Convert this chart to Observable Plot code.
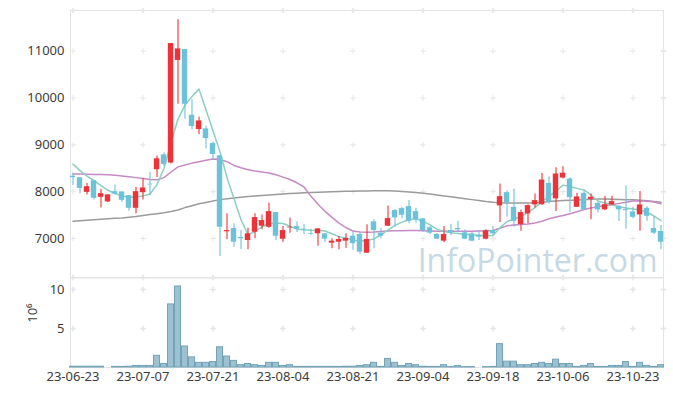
<!DOCTYPE html>
<html>
<head>
<meta charset="utf-8">
<script src="https://cdn.jsdelivr.net/npm/d3@7"></script>
<script src="https://cdn.jsdelivr.net/npm/@observablehq/plot@0.6"></script>
<style>
  html, body { margin: 0; padding: 0; background: #fff; }
  #wrap { position: relative; width: 673px; height: 396px; overflow: hidden; font-family: "Noto Sans", sans-serif; }
  #topPanel, #bottomPanel { position: absolute; left: 0; }
  #topPanel { top: 0; }
  #bottomPanel { top: 277px; }
</style>
</head>
<body>
<div id="wrap"><div id="topPanel"></div><div id="bottomPanel"></div></div>
<script>
// Trading days (yy-mm-dd)
const dates = ["23-06-23","23-06-26","23-06-27","23-06-28","23-06-29","23-06-30","23-07-03","23-07-04","23-07-05","23-07-06","23-07-07",
"23-07-10","23-07-11","23-07-12","23-07-13","23-07-14","23-07-17","23-07-18","23-07-19","23-07-20","23-07-21",
"23-07-24","23-07-25","23-07-26","23-07-27","23-07-28","23-07-31","23-08-01","23-08-02","23-08-03","23-08-04",
"23-08-07","23-08-08","23-08-09","23-08-10","23-08-11","23-08-14","23-08-16","23-08-17","23-08-18","23-08-21",
"23-08-22","23-08-23","23-08-24","23-08-25","23-08-28","23-08-29","23-08-30","23-08-31","23-09-01","23-09-04",
"23-09-05","23-09-06","23-09-07","23-09-08","23-09-11","23-09-12","23-09-13","23-09-14","23-09-15","23-09-18",
"23-09-19","23-09-20","23-09-21","23-09-22","23-09-25","23-09-26","23-09-27","23-10-04","23-10-05","23-10-06",
"23-10-10","23-10-11","23-10-12","23-10-13","23-10-16","23-10-17","23-10-18","23-10-19","23-10-20","23-10-23",
"23-10-24","23-10-25","23-10-26","23-10-27"];

const open = [8330,8298,7985,8234,7879,7781,8000,7994,7915,7645,7979,8160,8468,8787,8611,10802,11036,9632,9326,9340,9028,
8766,7143,7213,7021,6957,7134,7262,7240,7553,6985,7226,7255,7198,7100,7100,7100,6900,6921,6943,7050,
7085,6687,7355,7113,7262,7596,7638,7681,7574,7419,7228,7085,6943,7170,7213,7121,7100,7064,6985,7170,
7696,7979,7666,7298,7526,7717,7723,8177,7845,8291,8270,7666,7964,7836,7751,7611,7717,7681,7617,7568,
7504,7645,7213,7149];
const high = [8400,8300,8177,8240,8049,7940,8143,8000,7920,8091,8283,8411,8760,8830,11164,11674,11040,9964,9596,9398,9058,
8770,7526,7313,7170,7219,7526,7504,7760,7555,7255,7440,7355,7298,7198,7206,7105,6994,7043,7100,7134,
7134,7291,7398,7213,7696,7617,7660,7809,7645,7426,7255,7106,7255,7298,7368,7185,7128,7156,7185,7255,
8164,8021,8058,7611,7723,7951,8389,8319,8511,8532,8298,7964,8006,7951,7772,7900,7900,7702,8121,7666,
8006,7681,7468,7277];
const low = [8130,7957,7930,7823,7653,7770,7930,7772,7581,7526,7823,7915,8304,8540,8589,9866,9547,9319,9213,8909,8674,
6617,6972,6815,6760,6760,6994,7185,7219,6957,6921,7113,7128,7085,7070,6836,6915,6781,6760,6794,6750,
6660,6680,6781,6994,7255,7240,7419,7313,7326,7134,7085,6972,6908,7057,7134,6972,6929,6957,6972,7057,
7340,7453,7240,7155,7313,7653,7702,7738,7574,8270,7560,7660,7596,7398,7547,7596,7702,7362,7198,7419,
7155,7368,7085,6760];
const close = [8300,8070,8106,7858,7957,7930,7951,7815,7645,8000,8079,8145,8702,8581,11164,11049,9866,9390,9511,9134,8794,
7240,7170,6921,6994,7100,7447,7383,7574,7049,7170,7240,7198,7185,7085,7206,6985,6943,6979,7000,6890,
6709,6979,7170,7049,7426,7440,7496,7368,7398,7170,7113,6985,7085,7113,7185,6985,6943,7028,7164,7100,
7894,7760,7368,7553,7702,7809,8249,7772,8377,8394,7872,7887,7611,7879,7611,7723,7787,7611,7596,7453,
7717,7474,7113,6921];
// Volume in millions of shares
const volume = [0.1,0.1,0.1,0.1,0.1,0,0.08,0.08,0.1,0.2,0.2,0.2,1.5,0.45,8.1,10.4,2.7,1.3,0.6,0.6,0.7,
2.6,1.4,0.85,0.3,0.45,0.3,0.2,0.6,0.6,0.2,0.3,0.08,0.08,0.08,0.08,0.08,0.08,0.08,0.1,0.1,
0.2,0.3,0.6,0.08,1.1,0.6,0.2,0.45,0.3,0.1,0.08,0.08,0.3,0.05,0.2,0.05,0.05,0,0.05,0.08,
3.0,0.75,0.75,0.3,0.3,0.45,0.6,0.45,1.0,0.45,0.45,0.08,0.2,0.45,0.08,0.08,0.2,0.2,0.7,0.08,
0.6,0.2,0.08,0.3];
const ma5 = [8589,8450,8330,8234,8130,8030,7960,7910,7875,7890,7910,7951,8150,8500,9050,9550,9850,10030,10190,9750,9300,
8850,8300,7850,7400,7080,7150,7250,7320,7330,7320,7260,7200,7185,7175,7170,7160,7100,7040,7010,6970,
6940,6960,6990,7080,7180,7280,7350,7400,7420,7370,7290,7200,7150,7120,7105,7090,7080,7070,7060,7064,
7230,7360,7420,7460,7560,7660,7790,7900,8010,8140,8110,8070,8036,7930,7800,7760,7720,7680,7650,7630,
7610,7560,7480,7383];
const ma20 = [8377,8375,8372,8368,8365,8362,8350,8335,8320,8300,8280,8260,8255,8300,8420,8530,8570,8610,8640,8670,8696,
8690,8640,8560,8510,8470,8440,8420,8400,8360,8310,8260,8190,8100,7900,7730,7580,7450,7330,7230,7160,
7140,7135,7140,7150,7160,7165,7165,7170,7170,7165,7160,7155,7155,7155,7155,7155,7155,7160,7165,7170,
7220,7270,7290,7300,7310,7330,7370,7420,7460,7490,7530,7570,7620,7650,7680,7705,7720,7750,7775,7800,
7805,7795,7780,7740];
const ma60 = [7368,7380,7390,7400,7410,7420,7430,7440,7455,7470,7490,7510,7530,7550,7575,7610,7660,7700,7740,7770,7800,
7830,7850,7865,7880,7895,7910,7920,7930,7940,7950,7960,7968,7975,7982,7990,7995,8000,8004,8008,8010,
8012,8015,8018,8020,8018,8012,8005,7995,7980,7965,7950,7930,7910,7890,7870,7850,7830,7810,7790,7775,
7765,7760,7758,7758,7760,7765,7775,7790,7800,7810,7815,7820,7830,7840,7845,7845,7840,7835,7830,7825,
7815,7805,7790,7772];

const priceTicks = [7000, 8000, 9000, 10000, 11000];
const volTicks = [5, 10];
const xTicks = dates.filter((d, i) => i % 10 === 0);

const UP = "#ee3338", DOWN = "#6cc2d9";
const rows = dates.map((d, i) => ({date: d, open: open[i], high: high[i], low: low[i], close: close[i],
  vol: volume[i], ma5: ma5[i], ma20: ma20[i], ma60: ma60[i],
  color: close[i] >= open[i] ? UP : DOWN}));

const xScale = {type: "band", domain: dates, range: [68.8, 663.8], padding: 0};
const chartStyle = {fontFamily: "Noto Sans, sans-serif", fontSize: "13px", color: "#3c3c3c", background: "transparent", overflow: "visible"};
const gridColor = "#e6e6e6";

const priceChart = Plot.plot({
  width: 673, height: 278,
  marginTop: 10, marginBottom: 1, marginLeft: 70, marginRight: 10,
  style: chartStyle,
  x: {...xScale, axis: null},
  y: {domain: [6167, 11869], axis: null},
  color: {type: "identity"},
  marks: [
    Plot.frame({stroke: "#e4e4e4"}),
    Plot.dot(xTicks.flatMap(x => priceTicks.map(y => ({x, y}))), {x: "x", y: "y", symbol: "plus", r: 2, stroke: gridColor, strokeWidth: 1}),
    Plot.dot(priceTicks, {y: d => d, frameAnchor: "right", symbol: "plus", r: 2, stroke: gridColor}),
    Plot.dot(xTicks, {x: d => d, frameAnchor: "top", symbol: "plus", r: 2, stroke: gridColor}),
    Plot.dot(xTicks, {x: d => d, frameAnchor: "bottom", symbol: "plus", r: 2, stroke: gridColor}),
    Plot.text(["InfoPointer.com"], {frameAnchor: "bottom-right", dx: -6, dy: -6, textAnchor: "end", lineAnchor: "bottom",
      fontSize: 32, letterSpacing: -1, fill: "#c6d9e4", fontFamily: "Open Sans, sans-serif"}),
    Plot.axisY({ticks: priceTicks, tickSize: 0, tickPadding: 6, tickFormat: d3.format("d"), fontSize: 13}),
    Plot.lineY(rows, {x: "date", y: "ma60", stroke: "#9b9b9b", strokeWidth: 1.5}),
    Plot.lineY(rows, {x: "date", y: "ma20", stroke: "#c78ac5", strokeWidth: 1.5}),
    Plot.lineY(rows, {x: "date", y: "ma5", stroke: "#8ccfbf", strokeWidth: 1.5}),
    Plot.ruleX(rows, {x: "date", y1: "low", y2: "high", stroke: "color", strokeWidth: 1.1}),
    Plot.barY(rows, {x: "date", y1: "open", y2: "close", fill: "color", insetLeft: 0.8, insetRight: 0.8})
  ]
});
document.getElementById("topPanel").appendChild(priceChart);

const volumeChart = Plot.plot({
  width: 673, height: 119,
  marginTop: 0.5, marginBottom: 29, marginLeft: 70, marginRight: 10,
  style: chartStyle,
  x: {...xScale, axis: null},
  y: {domain: [0, 11.49], axis: null},
  marks: [
    Plot.frame({stroke: "#e4e4e4"}),
    Plot.dot(xTicks.flatMap(x => volTicks.map(y => ({x, y}))), {x: "x", y: "y", symbol: "plus", r: 2, stroke: gridColor}),
    Plot.dot(volTicks, {y: d => d, frameAnchor: "right", symbol: "plus", r: 2, stroke: gridColor}),
    Plot.barY(rows, {x: "date", y: "vol", fill: "#9cc1d1", stroke: "#74a3b8", strokeWidth: 1, insetLeft: 0.5, insetRight: 0.5}),
    Plot.axisY({ticks: volTicks, tickSize: 0, tickPadding: 6, tickFormat: d3.format("d"), fontSize: 13}),
    Plot.axisX({ticks: xTicks, tickSize: 0, tickPadding: 4, fontSize: 13}),
    Plot.text(["10⁶"], {frameAnchor: "left", dx: -38, rotate: -90, fontSize: 13, fill: "#3c3c3c"})
  ]
});
document.getElementById("bottomPanel").appendChild(volumeChart);
</script>
</body>
</html>
